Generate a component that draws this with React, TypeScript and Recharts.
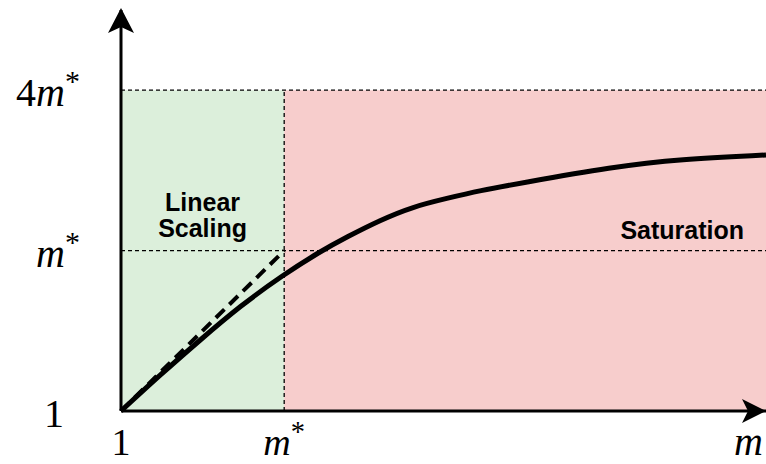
import React from 'react';
import {
  ComposedChart,
  Line,
  Scatter,
  XAxis,
  YAxis,
  ReferenceArea,
  ReferenceLine,
  Label,
} from 'recharts';

// schematic axes: x 0..100, y 0..125 (4m* sits at 100)
const xTicks = [0, 25.3];
const xTickLabels = ['1', 'm*'];
const yTicks = [0, 50, 100];
const yTickLabels = ['1', 'm*', '4m*'];

const curveX = [0, 6.05, 12.25, 18.45, 25.12, 30.85, 35.04, 40.16, 45.27, 50.54, 55.66, 61.86, 76.28, 86.67, 100];
const curveY = [0, 11.2, 22.1, 32.7, 42.4, 49.7, 54.3, 59.5, 63.7, 66.3, 68.7, 71.0, 76.1, 78.5, 79.8];

const linearX = [0, 25.3];
const linearY = [0, 50];

const regionSplit = 25.3;
const regionTop = 100;

const curveData = curveX.map((x, i) => ({ x, y: curveY[i] }));
const linearData = linearX.map((x, i) => ({ x, y: linearY[i] }));

const GREEN = '#dcefdb';
const RED = '#f7cdcc';
const SERIF = '"Liberation Serif", "Times New Roman", serif';
const SANS = '"Liberation Sans", Arial, Helvetica, sans-serif';

function MathText({
  x,
  y,
  text,
  anchor,
  size = 40,
}: {
  x: number;
  y: number;
  text: string;
  anchor: string;
  size?: number;
}) {
  const idx = text.indexOf('m');
  const prefix = idx > 0 ? text.slice(0, idx) : idx < 0 ? text : '';
  const hasM = idx >= 0;
  const hasStar = text.endsWith('*');
  return (
    <text x={x} y={y} textAnchor={anchor} fontFamily={SERIF} fontSize={size} fill="#000">
      {prefix && <tspan>{prefix}</tspan>}
      {hasM && <tspan fontStyle="italic">m</tspan>}
      {hasStar && (
        <tspan fontSize={size * 0.75} dy={-size * 0.37}>
          *
        </tspan>
      )}
    </text>
  );
}

const XTick = (props: any) => {
  const { x, y, payload } = props;
  const label = xTickLabels[xTicks.indexOf(payload.value)] ?? '';
  return <MathText x={x} y={y + 44} text={label} anchor="middle" size={38} />;
};

const YTick = (props: any) => {
  const { x, y, payload } = props;
  const label = yTickLabels[yTicks.indexOf(payload.value)] ?? '';
  if (label.indexOf('m') < 0) {
    return <MathText x={x - 67} y={y + 16} text={label} anchor="middle" />;
  }
  return <MathText x={x - 41} y={y + 16} text={label} anchor="end" />;
};

const linearLabel = (props: any) => {
  const vb = props.viewBox;
  const cx = vb.x + vb.width / 2;
  return (
    <text fontFamily={SANS} fontWeight="bold" fontSize={25} fill="#000" textAnchor="middle">
      <tspan x={cx} y={vb.y + 121}>Linear</tspan>
      <tspan x={cx} y={vb.y + 147}>Scaling</tspan>
    </text>
  );
};

const saturationLabel = (props: any) => {
  const vb = props.viewBox;
  return (
    <text
      x={vb.x + vb.width - 22}
      y={vb.y + 149}
      fontFamily={SANS}
      fontWeight="bold"
      fontSize={25}
      fill="#000"
      textAnchor="end"
    >
      Saturation
    </text>
  );
};

const xAxisName = (props: any) => {
  const vb = props.viewBox;
  return (
    <text
      x={vb.x + vb.width - 32}
      y={vb.y + 44}
      fontFamily={SERIF}
      fontStyle="italic"
      fontSize={40}
      fill="#000"
    >
      m
    </text>
  );
};

const ArrowRight = (props: any) => {
  const { cx, cy } = props;
  return (
    <path
      d={`M${cx},${cy} L${cx - 24},${cy - 12} L${cx - 18},${cy} L${cx - 24},${cy + 12} Z`}
      fill="#000"
    />
  );
};

const ArrowUp = (props: any) => {
  const { cx, cy } = props;
  return (
    <path
      d={`M${cx},${cy - 2} L${cx - 13},${cy + 23} L${cx},${cy + 17} L${cx + 13},${cy + 23} Z`}
      fill="#000"
    />
  );
};

export default function App() {
  return (
    <div style={{ position: 'absolute', left: 0, top: 0, width: 766, height: 464, background: '#fff' }}>
      <ComposedChart width={766} height={464} margin={{ top: 10, right: 0, bottom: 0, left: 0 }}>
        <XAxis
          dataKey="x"
          type="number"
          domain={[0, 100]}
          ticks={xTicks}
          tick={<XTick />}
          tickLine={false}
          tickSize={0}
          tickMargin={0}
          height={53}
          axisLine={{ stroke: '#000', strokeWidth: 3 }}
        >
          <Label content={xAxisName} />
        </XAxis>
        <YAxis
          dataKey="y"
          type="number"
          domain={[0, 125]}
          ticks={yTicks}
          tick={<YTick />}
          tickLine={false}
          tickSize={0}
          tickMargin={0}
          width={121}
          axisLine={{ stroke: '#000', strokeWidth: 3 }}
        />
        <ReferenceArea
          x1={0}
          x2={regionSplit}
          y1={0}
          y2={regionTop}
          fill={GREEN}
          fillOpacity={1}
          stroke="none"
          label={linearLabel}
        />
        <ReferenceArea
          x1={regionSplit}
          x2={100}
          y1={0}
          y2={regionTop}
          fill={RED}
          fillOpacity={1}
          stroke="none"
          label={saturationLabel}
        />
        <ReferenceLine y={regionTop} stroke="#000" strokeWidth={1.3} strokeDasharray="4 3" />
        <ReferenceLine y={linearY[1]} stroke="#000" strokeWidth={1.3} strokeDasharray="4 3" />
        <ReferenceLine
          segment={[
            { x: regionSplit, y: 0 },
            { x: regionSplit, y: regionTop },
          ]}
          stroke="#000"
          strokeWidth={1.3}
          strokeDasharray="4 3"
        />
        <Line
          data={linearData}
          dataKey="y"
          type="linear"
          stroke="#000"
          strokeWidth={4}
          strokeDasharray="12 7"
          dot={false}
          isAnimationActive={false}
        />
        <Line
          data={curveData}
          dataKey="y"
          type="basis"
          stroke="#000"
          strokeWidth={5}
          dot={false}
          isAnimationActive={false}
        />
        <Scatter data={[{ x: 100, y: 0 }]} dataKey="y" shape={ArrowRight} isAnimationActive={false} />
        <Scatter data={[{ x: 0, y: 125 }]} dataKey="y" shape={ArrowUp} isAnimationActive={false} />
      </ComposedChart>
    </div>
  );
}
